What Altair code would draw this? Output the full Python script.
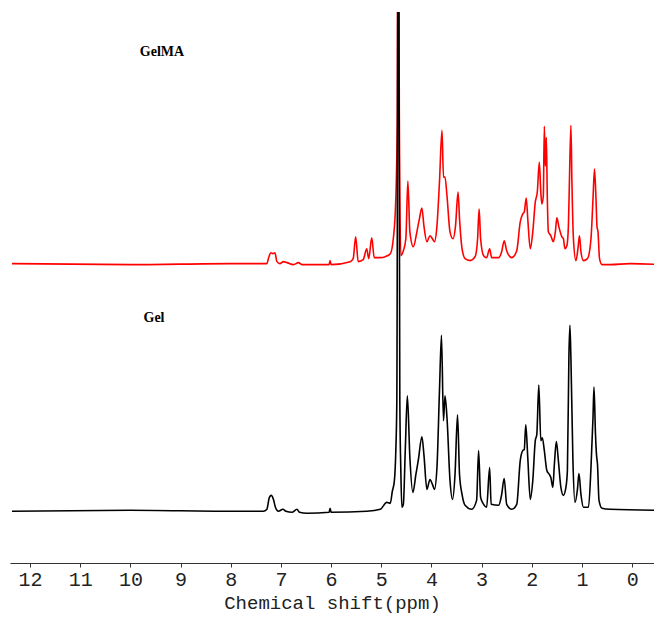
import altair as alt
import pandas as pd

# GelMA (red) trace: chemical shift (ppm) and intensity above its own baseline
gelma_ppm = [12.36, 10.0, 8.0, 7.28, 7.25, 7.20, 7.16, 7.12, 7.08, 7.02, 6.95, 6.88, 6.75, 6.65, 6.58,
             6.04, 6.02, 6.00, 5.62, 5.56, 5.51, 5.46, 5.36, 5.29, 5.25, 5.19, 5.14, 5.02, 4.92, 4.82,
             4.76, 4.71, 4.68, 4.66, 4.64, 4.61, 4.56, 4.51, 4.47, 4.43, 4.36, 4.29, 4.24, 4.19, 4.15,
             4.09, 4.03, 3.98, 3.94, 3.89, 3.84, 3.79, 3.76, 3.73, 3.69, 3.63, 3.57, 3.52, 3.47, 3.44,
             3.39, 3.33, 3.23, 3.13, 3.08, 3.05, 3.02, 2.96, 2.90, 2.84, 2.80, 2.66, 2.60, 2.55, 2.50,
             2.40, 2.30, 2.23, 2.18, 2.15, 2.11, 2.08, 2.03, 1.98, 1.93, 1.89, 1.85, 1.82, 1.80, 1.77,
             1.75, 1.73, 1.71, 1.69, 1.67, 1.62, 1.57, 1.53, 1.50, 1.46, 1.40, 1.37, 1.34, 1.30, 1.27,
             1.25, 1.22, 1.20, 1.17, 1.12, 1.08, 1.05, 1.02, 0.97, 0.89, 0.82, 0.78, 0.75, 0.72, 0.70,
             0.68, 0.65, 0.60, 0.44, 0.04, -0.60]
gelma_int = [1, 0, 1, 1, 6, 12, 11, 12, 3, 1, 3, 2, 0, 2, 0,
             0, 4, 0, 3, 6, 28, 3, 5, 16, 6, 27, 7, 7, 8, 11,
             26, 66, 150, 700, 150, 9, 14, 26, 84, 33, 18, 33, 46, 57, 39,
             23, 29, 26, 23, 39, 83, 135, 88, 88, 69, 33, 26, 39, 73, 46,
             16, 6, 4, 8, 26, 56, 26, 9, 7, 16, 7, 7, 13, 24, 14,
             7, 14, 43, 51, 53, 67, 46, 16, 33, 63, 73, 103, 73, 61, 69,
             139, 99, 128, 66, 33, 29, 23, 33, 47, 38, 28, 26, 16, 19, 39,
             83, 140, 83, 26, 4, 16, 29, 13, 4, 6, 26, 66, 96, 66, 38,
             33, 6, 0, 0, 1, 0]

# Gel (black) trace
gel_ppm = [12.36, 10.0, 8.0, 7.35, 7.28, 7.23, 7.19, 7.15, 7.11, 7.05, 6.96, 6.90, 6.78, 6.68, 6.63,
           6.48, 6.04, 6.02, 6.00, 5.29, 5.02, 4.89, 4.82, 4.78, 4.74, 4.71, 4.69, 4.66, 4.63, 4.61,
           4.59, 4.56, 4.52, 4.48, 4.43, 4.37, 4.31, 4.26, 4.19, 4.15, 4.09, 4.03, 3.98, 3.94, 3.89,
           3.84, 3.80, 3.76, 3.73, 3.69, 3.63, 3.58, 3.53, 3.48, 3.44, 3.39, 3.33, 3.20, 3.10, 3.06,
           3.02, 2.96, 2.90, 2.84, 2.81, 2.66, 2.60, 2.55, 2.50, 2.40, 2.30, 2.23, 2.18, 2.15, 2.12,
           2.08, 2.03, 1.98, 1.93, 1.90, 1.86, 1.82, 1.79, 1.75, 1.70, 1.65, 1.62, 1.58, 1.55, 1.51,
           1.47, 1.42, 1.37, 1.32, 1.29, 1.26, 1.24, 1.22, 1.18, 1.14, 1.09, 1.06, 1.02, 0.97, 0.87,
           0.82, 0.78, 0.76, 0.73, 0.71, 0.69, 0.66, 0.60, 0.44, -0.60]
gel_int = [0, 1, 0, 0, 2, 14, 16, 12, 4, 0, 2, 0, -1, 2, -1,
           -2, -1, 3, -1, 0, 2, 9, 8, 20, 30, 61, 110, 700, 110, 41,
           4, 7, 64, 116, 54, 19, 37, 52, 75, 57, 22, 32, 27, 22, 44,
           121, 177, 91, 116, 94, 31, 12, 37, 97, 37, 17, 6, 2, 11, 61,
           14, 7, 4, 44, 7, 6, 17, 33, 7, 2, 7, 51, 61, 62, 87,
           54, 12, 31, 71, 77, 127, 71, 74, 61, 41, 37, 34, 24, 47, 70,
           51, 24, 16, 24, 41, 156, 187, 154, 51, 9, 22, 38, 17, 4, 4,
           44, 94, 125, 77, 57, 47, 11, 3, 2, 1]

series_names = ["GelMA", "Gel"]
series_offsets = [248, 0]
series_colors = ["#ff0000", "#000000"]

label_text = ["GelMA", "Gel"]
label_ppm = [9.37, 9.53]
label_val = [462, 194]

tick_values = [12 - 0.5 * i for i in range(26)]

rows = []
for p, v in zip(gelma_ppm, gelma_int):
    rows.append({"ppm": p, "val": v + series_offsets[0], "series": series_names[0]})
red_df = pd.DataFrame(rows)
rows = []
for p, v in zip(gel_ppm, gel_int):
    rows.append({"ppm": p, "val": v + series_offsets[1], "series": series_names[1]})
black_df = pd.DataFrame(rows)
lab_df = pd.DataFrame({"t": label_text, "ppm": label_ppm, "val": label_val})

xscale = alt.Scale(domain=[-0.436, 12.4], reverse=True, nice=False, zero=False)
yscale = alt.Scale(domain=[-52, 502], nice=False, zero=False)

xaxis = alt.Axis(
    values=tick_values,
    format=".1f",
    labelExpr="(datum.value % 1 == 0) ? replace(datum.label, '.0', '') : ''",
    labelOverlap=False,
    labelBound=False,
    title="Chemical shift(ppm)",
    titleFont="Liberation Mono", titleFontSize=19, titleFontWeight="normal", titleColor="#222",
    titlePadding=4,
    labelFont="Liberation Mono", labelFontSize=20, labelColor="#222", labelPadding=2,
    tickSize=4, tickColor="#333", domainColor="#333", domainWidth=1, grid=False,
    labelFlush=False,
)

red = alt.Chart(red_df).mark_line(color=series_colors[0], strokeWidth=1.6, clip=True,
                                  interpolate="monotone").encode(
    x=alt.X("ppm:Q", scale=xscale, axis=xaxis),
    y=alt.Y("val:Q", scale=yscale, axis=None),
    order="ppm:Q",
)
black = alt.Chart(black_df).mark_line(color=series_colors[1], strokeWidth=1.6, clip=True,
                                      interpolate="monotone").encode(
    x=alt.X("ppm:Q", scale=xscale),
    y=alt.Y("val:Q", scale=yscale),
)
labels = alt.Chart(lab_df).mark_text(font="Liberation Serif", fontWeight="bold", fontSize=14,
                                     color="#000").encode(
    x=alt.X("ppm:Q", scale=xscale),
    y=alt.Y("val:Q", scale=yscale),
    text="t:N",
)

chart = alt.layer(red, black, labels).properties(
    width=644, height=551,
    padding={"left": 2, "top": 4, "right": 0, "bottom": 4},
).configure_view(stroke=None)

chart.save("out.html", embed_options={"renderer": "svg", "actions": False})
